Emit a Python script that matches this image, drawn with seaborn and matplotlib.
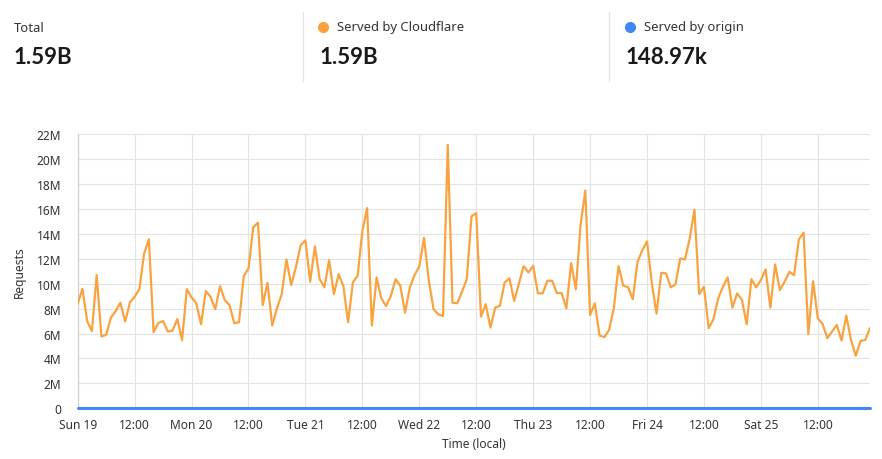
import matplotlib
matplotlib.use("Agg")
import matplotlib.pyplot as plt
from matplotlib.lines import Line2D
from matplotlib.ticker import FuncFormatter
import numpy as np
import pandas as pd
import seaborn as sns

# ---- data (hourly requests, millions) ----
cloudflare_m = [
    8.4, 9.6, 7.0, 6.2, 10.7, 5.76, 5.9, 7.28, 7.81, 8.48, 6.96, 8.48,
    8.96, 9.55, 12.43, 13.57, 6.11, 6.85, 7.0, 6.16, 6.24, 7.17, 5.47, 9.57,
    8.9, 8.43, 6.75, 9.41, 8.96, 7.95, 9.81, 8.69, 8.29, 6.83, 6.91, 10.61,
    11.23, 14.53, 14.91, 8.29, 10.08, 6.64, 8.03, 9.15, 11.95, 9.89, 11.36, 13.09,
    13.49, 10.16, 13.01, 10.37, 9.71, 11.89, 9.17, 10.77, 9.81, 6.91, 10.11, 10.64,
    14.24, 16.08, 6.64, 10.51, 8.83, 8.21, 9.01, 10.37, 9.84, 7.68, 9.68, 10.69,
    11.4, 13.68, 10.29, 7.95, 7.55, 7.41, 21.15, 8.48, 8.43, 9.36, 10.35, 15.41,
    15.68, 7.36, 8.37, 6.48, 8.08, 8.24, 10.11, 10.43, 8.61, 10.03, 11.41, 10.91,
    11.44, 9.23, 9.23, 10.24, 10.24, 9.25, 9.25, 8.03, 11.65, 9.55, 14.75, 17.49,
    7.49, 8.43, 5.84, 5.71, 6.29, 8.03, 11.41, 9.84, 9.73, 8.75, 11.76, 12.69,
    13.4, 10.1, 7.6, 10.88, 10.83, 9.71, 9.95, 12.03, 11.95, 13.63, 15.95, 9.17,
    9.76, 6.43, 7.15, 8.83, 9.76, 10.51, 8.08, 9.23, 8.69, 6.75, 10.37, 9.71,
    10.29, 11.15, 8.08, 11.55, 9.49, 10.16, 10.96, 10.69, 13.55, 14.11, 5.97, 10.21,
    7.23, 6.77, 5.63, 6.16, 6.69, 5.44, 7.44, 5.49, 4.21, 5.41, 5.49, 6.43,
]
origin_m = [
    0, 0, 0, 0, 0, 0, 0, 0, 0, 0, 0, 0, 0, 0, 0, 0, 0, 0, 0, 0, 0, 0, 0, 0,
    0, 0, 0, 0, 0, 0, 0, 0, 0, 0, 0, 0, 0, 0, 0, 0, 0, 0, 0, 0, 0, 0, 0, 0,
    0, 0, 0, 0, 0, 0, 0, 0, 0, 0, 0, 0, 0, 0, 0, 0, 0, 0, 0, 0, 0, 0, 0, 0,
    0, 0, 0, 0, 0, 0, 0, 0, 0, 0, 0, 0, 0, 0, 0, 0, 0, 0, 0, 0, 0, 0, 0, 0,
    0, 0, 0, 0, 0, 0, 0, 0, 0, 0, 0, 0, 0, 0, 0, 0, 0, 0, 0, 0, 0, 0, 0, 0,
    0, 0, 0, 0, 0, 0, 0, 0, 0, 0, 0, 0, 0, 0, 0, 0, 0, 0, 0, 0, 0, 0, 0, 0,
    0, 0, 0, 0, 0, 0, 0, 0, 0, 0, 0, 0, 0, 0, 0, 0, 0, 0, 0, 0, 0, 0, 0, 0,
]
tick_hours = [0, 12, 24, 36, 48, 60, 72, 84, 96, 108, 120, 132, 144, 156]
tick_labels = ["Sun 19", "12:00", "Mon 20", "12:00", "Tue 21", "12:00", "Wed 22",
               "12:00", "Thu 23", "12:00", "Fri 24", "12:00", "Sat 25", "12:00"]
y_ticks_m = [0, 2, 4, 6, 8, 10, 12, 14, 16, 18, 20, 22]
stat_labels = ["Total", "Served by Cloudflare", "Served by origin"]
stat_values = ["1.59B", "1.59B", "148.97k"]

ORANGE = "#F8A33F"
BLUE = "#4287F3"
GRID = "#E3E3E3"
TEXT = "#333333"

hours = list(range(len(cloudflare_m)))
df = pd.DataFrame({
    "hour": hours + hours,
    "requests": [v * 1e6 for v in cloudflare_m] + [v * 1e6 for v in origin_m],
    "series": ["Served by Cloudflare"] * len(hours) + ["Served by origin"] * len(hours),
})

sns.set_theme(style="white")
plt.rcParams["font.family"] = ["Noto Sans", "DejaVu Sans"]

W, H = 882, 460
fig = plt.figure(figsize=(W / 100, H / 100), dpi=100)
ax = fig.add_axes([77.7 / W, 1 - 409.3 / H, (870 - 77.7) / W, (409.3 - 135.3) / H])

sns.lineplot(data=df, x="hour", y="requests", hue="series",
             hue_order=["Served by Cloudflare", "Served by origin"],
             palette={"Served by Cloudflare": ORANGE, "Served by origin": BLUE},
             linewidth=1.6, ax=ax, legend=False)
for ln in ax.lines:
    ln.set_zorder(3)
if len(ax.lines) > 1:
    ax.lines[1].set_linewidth(2.2)
    ax.lines[1].set_clip_on(False)
    ax.lines[1].set_zorder(4)

ax.set_xlim(0, len(hours) - 1)
ax.set_ylim(0, 22e6)
ax.set_xticks(tick_hours)
ax.set_xticklabels(tick_labels)
ax.set_yticks([v * 1e6 for v in y_ticks_m])
ax.yaxis.set_major_formatter(FuncFormatter(lambda v, p: "0" if v == 0 else f"{v/1e6:.0f}M"))

ax.grid(True, color=GRID, linewidth=0.8)
for s in ["top", "right", "bottom"]:
    ax.spines[s].set_visible(False)
ax.spines["left"].set_color("#CFCFCF")
ax.spines["left"].set_linewidth(0.9)
ax.tick_params(axis="y", length=7, width=0.8, color=GRID, pad=5, labelsize=8.6, labelcolor=TEXT)
ax.tick_params(axis="x", length=3, width=0.8, color=GRID, pad=4, labelsize=8.6, labelcolor=TEXT)
ax.set_xlabel("Time (local)", fontsize=8.6, color=TEXT, labelpad=4)
ax.set_ylabel("Requests", fontsize=8.6, color=TEXT, labelpad=8)

# ---- header stats ----
def fx(x):
    return x / W

def fy(y):
    return 1 - y / H

label_x = [14, 337, 644]
value_x = [14, 320, 626]
dot_x = [None, 323, 630]
dot_c = [None, ORANGE, BLUE]
for i in range(3):
    fig.text(fx(label_x[i]), fy(28), stat_labels[i], fontsize=9.4, color=TEXT, va="center", ha="left")
    fig.text(fx(value_x[i]), fy(58), stat_values[i], fontsize=16, fontweight="bold",
             family=["Lato", "DejaVu Sans"], color="#1a1a1a", va="center", ha="left")
    if dot_x[i] is not None:
        fig.add_artist(Line2D([fx(dot_x[i])], [fy(28)], marker="o", markersize=7,
                              color=dot_c[i], linestyle="none"))
for sx in [303, 609]:
    fig.add_artist(Line2D([fx(sx), fx(sx)], [fy(13), fy(82)], color="#E3E3E3", linewidth=0.9))

fig.savefig("out.png", dpi=100, facecolor="white")
